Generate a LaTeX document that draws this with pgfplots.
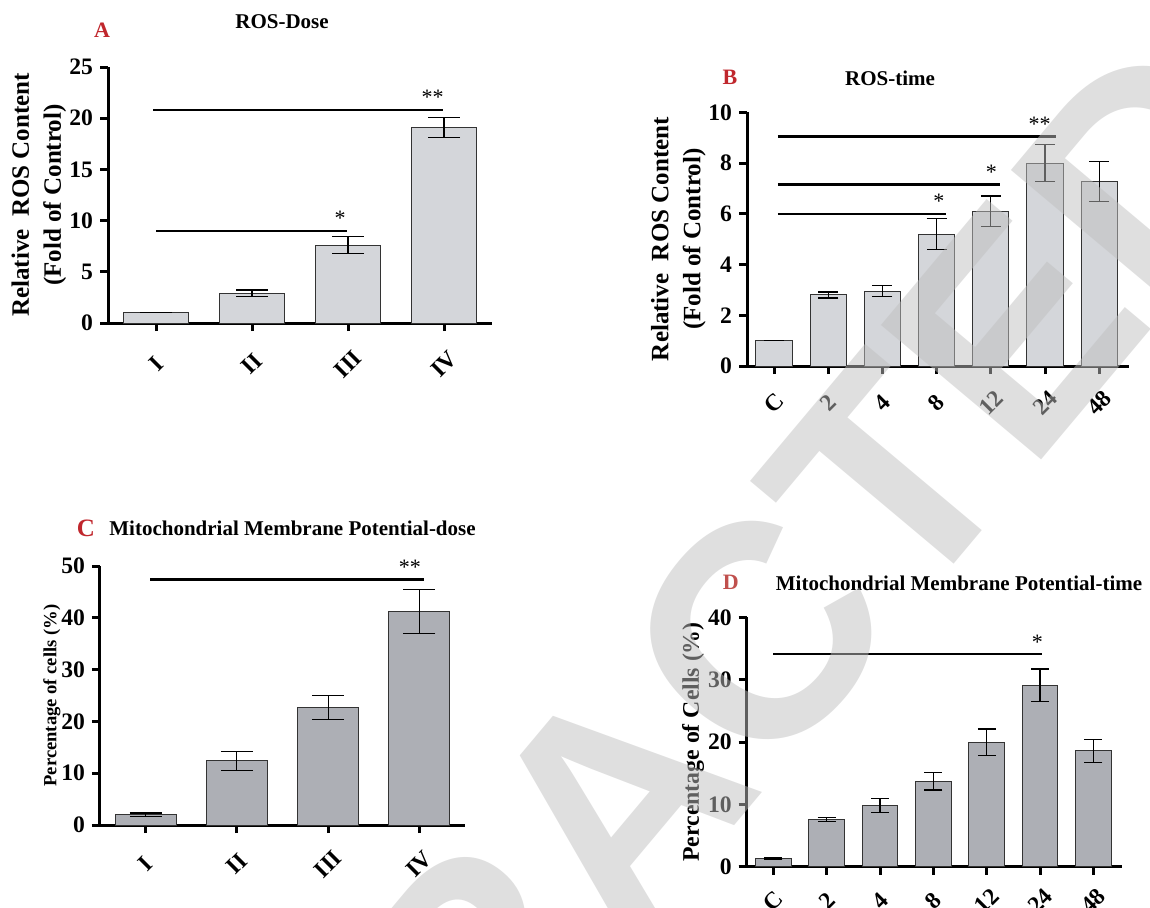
\documentclass[border=0pt]{standalone}
\usepackage{pgfplots}
\pgfplotsset{compat=1.18}
\usepackage{fontspec}
\setmainfont{Liberation Serif}
\newfontfamily\wmfont{Liberation Sans}
\definecolor{barA}{HTML}{D4D6DA}
\definecolor{barC}{HTML}{ADAFB5}
\definecolor{redA}{HTML}{C0272D}
\definecolor{redD}{HTML}{C0504D}

\pgfplotsset{
  panel/.style={
    scale only axis, anchor=south west, clip=false,
    axis x line*=bottom, axis y line*=left,
    axis line style={-, line width=1.5pt, black},
    x axis line style={shorten <=-4pt},
    tick align=outside, major tick length=4pt,
    every tick/.style={black, line width=1.5pt},
    ymin=0, xmin=-0.5,
    tick label style={font=\bfseries\fontsize{11.8}{14}\selectfont},
    /pgf/number format/assume math mode=true,
    ylabel style={font=\bfseries\fontsize{12.5}{16}\selectfont, align=center, anchor=center},
  },
  xlab/.style={xticklabel style={yshift=#1, rotate=45, anchor=center}},
  bars/.style={ybar, bar width=0.67, fill=#1, draw=black!80, line width=0.5pt,
    /pgfplots/error bars/y dir=both, /pgfplots/error bars/y explicit,
    /pgfplots/error bars/error bar style={line width=0.6pt, black}},
  emark/.style={/pgfplots/error bars/error mark options={rotate=90, mark size=#1, line width=0.6pt, black}},
  sig/.style={line width=1.2pt, black, mark=none},
}
\tikzset{star/.style={anchor=base east, inner sep=0pt, font=\fontsize{11}{11}\selectfont}}

\begin{document}
\begin{tikzpicture}
\path[use as bounding box] (0,0) rectangle (575pt,453.5pt);
\clip (0,0) rectangle (575pt,453.5pt);

% ---------- A: ROS-Dose
\node[font=\bfseries\fontsize{11}{11}\selectfont, text=redA] at (51pt,438.5pt) {A};
\node[font=\bfseries\fontsize{10.5}{12}\selectfont] at (141pt,442.5pt) {ROS-Dose};
\begin{axis}[panel, xlab=-16.5pt, at={(54pt,292pt)}, width=192pt, height=128pt,
  xmax=3.5, ymax=25, xtick={0,1,2,3}, xticklabels={I,II,III,IV},
  ytick={0,5,10,15,20,25},
  ylabel={Relative\ \ ROS Content\\(Fold of Control)},
  ylabel style={at={(axis description cs:-0.18,0.5)}}]
\addplot[bars=barA, emark=8pt]
  coordinates {(0,1.0) +- (0,0) (1,2.9) +- (0,0.33) (2,7.6) +- (0,0.85) (3,19.1) +- (0,1.0)};
\addplot[sig] coordinates {(-0.03,20.8) (2.99,20.8)};
\addplot[sig] coordinates {(0,9.0) (1.99,9.0)};
\node[star] at (axis cs:3.0,21.3) {**};
\node[star] at (axis cs:1.98,9.5) {*};
\end{axis}

% ---------- B: ROS-time
\node[font=\bfseries\fontsize{11}{11}\selectfont, text=redA] at (365pt,415pt) {B};
\node[font=\bfseries\fontsize{10.5}{12}\selectfont] at (445pt,414.5pt) {ROS-time};
\begin{axis}[panel, xlab=-14.5pt, at={(373.5pt,270.5pt)}, width=191pt, height=126.85pt,
  xmax=6.55, ymax=10, xtick={0,...,6}, xticklabels={C,2,4,8,12,24,48},
  ytick={0,2,4,6,8,10},
  ylabel={Relative\ \ ROS Content\\(Fold of Control)},
  ylabel style={at={(axis description cs:-0.18,0.5)}}]
\addplot[bars=barA, emark=5pt]
  coordinates {(0,1.0) +- (0,0) (1,2.8) +- (0,0.12) (2,2.95) +- (0,0.22) (3,5.2) +- (0,0.6)
               (4,6.1) +- (0,0.6) (5,8.0) +- (0,0.72) (6,7.28) +- (0,0.79)};
\addplot[sig] coordinates {(0.07,9.05) (5.21,9.05)};
\addplot[sig] coordinates {(0.07,7.16) (4.16,7.16)};
\addplot[sig] coordinates {(0.07,5.99) (3.17,5.99)};
\node[star] at (axis cs:5.11,9.25) {**};
\node[star] at (axis cs:4.12,7.36) {*};
\node[star] at (axis cs:3.15,6.19) {*};
\end{axis}

% ---------- C: Mitochondrial Membrane Potential-dose
\node[font=\bfseries\fontsize{12.5}{12.5}\selectfont, text=redA] at (43pt,189.5pt) {C};
\node[font=\bfseries\fontsize{10.5}{12}\selectfont] at (146.25pt,189.5pt) {Mitochondrial Membrane Potential-dose};
\begin{axis}[panel, xlab=-15.5pt, at={(50pt,41pt)}, width=182.5pt, height=129.5pt,
  xmax=3.5, ymax=50, xtick={0,1,2,3}, xticklabels={I,II,III,IV},
  ytick={0,10,20,30,40,50},
  ylabel={Percentage of cells (\%)},
  ylabel style={at={(axis description cs:-0.1315,0.5)}, font=\bfseries\fontsize{9.3}{11}\selectfont}]
\addplot[bars=barC, emark=8pt]
  coordinates {(0,2.0) +- (0,0.3) (1,12.4) +- (0,1.85) (2,22.7) +- (0,2.3) (3,41.2) +- (0,4.2)};
\addplot[sig] coordinates {(0.05,47.4) (3.05,47.4)};
\node[star] at (axis cs:3.02,48.4) {**};
\end{axis}

% ---------- D: Mitochondrial Membrane Potential-time
\node[font=\bfseries\fontsize{11}{11}\selectfont, text=redD] at (365.35pt,162.15pt) {D};
\node[font=\bfseries\fontsize{10.5}{12}\selectfont] at (479.5pt,162pt) {Mitochondrial Membrane Potential-time};
\begin{axis}[panel, xlab=-13pt, at={(373.35pt,20.15pt)}, width=187.5pt, height=124.7pt,
  xmax=6.53, ymax=40, xtick={0,...,6}, xticklabels={C,2,4,8,12,24,48},
  ytick={0,10,20,30,40},
  ylabel={Percentage of Cells (\%)},
  ylabel style={at={(axis description cs:-0.143,0.5)}, font=\bfseries\fontsize{11.9}{14}\selectfont}]
\addplot[bars=barC, emark=4.5pt]
  coordinates {(0,1.3) +- (0,0.1) (1,7.6) +- (0,0.35) (2,9.85) +- (0,1.1) (3,13.7) +- (0,1.4)
               (4,20.0) +- (0,2.1) (5,29.1) +- (0,2.6) (6,18.6) +- (0,1.85)};
\addplot[sig] coordinates {(0.0,34.1) (5.03,34.1)};
\node[star] at (axis cs:5.06,34.8) {*};
\end{axis}

% ---------- watermark
\node[rotate=50, text=black!25, opacity=0.5, font=\wmfont\bfseries\fontsize{152}{152}\selectfont]
  at (308.5pt,52pt) {RETRACTED};
\end{tikzpicture}
\end{document}
